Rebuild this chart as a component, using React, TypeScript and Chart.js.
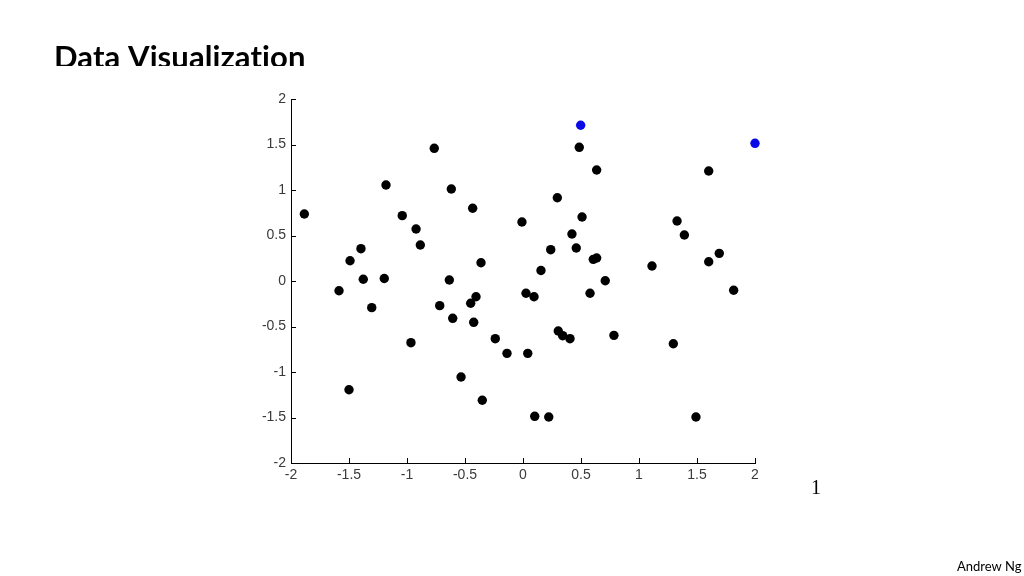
import React, { useEffect, useRef } from "react";
import { Chart, registerables } from "chart.js";

Chart.register(...registerables);

// ---- data ----
const blackX = [
  -1.885, -1.586, -1.491, -1.397, -1.377, -1.304, -1.5, -1.196, -1.181, -1.041,
  -0.966, -0.922, -0.885, -0.765, -0.718, -0.635, -0.618, -0.606, -0.534, -0.434,
  -0.451, -0.405, -0.425, -0.362, -0.351, -0.239, -0.138, -0.009, 0.026, 0.095,
  0.041, 0.101, 0.155, 0.222, 0.239, 0.296, 0.304, 0.342, 0.405, 0.422,
  0.459, 0.485, 0.509, 0.606, 0.635, 0.635, 0.578, 0.709, 0.784, 1.112,
  1.296, 1.328, 1.391, 1.491, 1.601, 1.601, 1.692, 1.816,
];
const blackY = [
  0.736, -0.107, 0.223, 0.355, 0.019, -0.293, -1.195, 0.027, 1.055, 0.718,
  -0.678, 0.571, 0.396, 1.458, -0.271, 0.011, 1.011, -0.41, -1.055, 0.799,
  -0.245, -0.173, -0.454, 0.201, -1.311, -0.634, -0.795, 0.648, -0.135, -0.173,
  -0.795, -1.487, 0.115, -1.495, 0.344, 0.915, -0.549, -0.601, -0.634, 0.516,
  0.363, 1.469, 0.703, 0.238, 0.253, 1.22, -0.135, 0.003, -0.597, 0.165,
  -0.689, 0.659, 0.505, -1.495, 1.209, 0.212, 0.304, -0.102,
];
const blueX = [0.497, 2.0];
const blueY = [1.711, 1.513];
const tickValues = [-2, -1.5, -1, -0.5, 0, 0.5, 1, 1.5, 2];

const titleText = "Data Visualization";
const pageNumber = "1";
const footerText = "Andrew Ng";

const toPoints = (xs: number[], ys: number[]) => xs.map((x, i) => ({ x, y: ys[i] }));
const fmt = (v: any) => {
  const n = Number(v);
  return n === 0 ? "0" : String(n);
};

const inwardTicks = {
  id: "inwardTicks",
  beforeDatasetsDraw(chart: any) {
    const { ctx, chartArea, scales } = chart;
    ctx.save();
    ctx.strokeStyle = "#000";
    ctx.lineWidth = 1;
    ctx.beginPath();
    for (const v of tickValues) {
      const px = Math.round(scales.x.getPixelForValue(v)) + 0.5;
      ctx.moveTo(px, chartArea.bottom);
      ctx.lineTo(px, chartArea.bottom - 5);
      const py = Math.round(scales.y.getPixelForValue(v)) + 0.5;
      ctx.moveTo(chartArea.left, py);
      ctx.lineTo(chartArea.left + 5, py);
    }
    ctx.stroke();
    ctx.restore();
  },
};

const slideText = {
  id: "slideText",
  afterDraw(chart: any) {
    const ctx = chart.ctx;
    ctx.save();
    ctx.fillStyle = "#000";
    ctx.textBaseline = "alphabetic";
    ctx.textAlign = "left";
    // title, clipped at its bottom like the reference
    ctx.save();
    ctx.beginPath();
    ctx.rect(0, 0, 1024, 66);
    ctx.clip();
    ctx.font = "bold 31px Lato";
    (ctx as any).letterSpacing = "0.1px";
    ctx.fillText(titleText, 54, 68);
    ctx.restore();
    // page number
    ctx.font = "20px 'Liberation Serif'";
    ctx.fillText(pageNumber, 811, 494);
    // footer
    ctx.font = "13px Lato";
    ctx.fillText(footerText, 957, 571);
    ctx.restore();
  },
};

export default function App() {
  const ref = useRef<HTMLCanvasElement | null>(null);

  useEffect(() => {
    if (!ref.current) return;
    const axisFont = { family: "'Liberation Sans', Arial, sans-serif", size: 14 };
    const chart = new Chart(ref.current, {
      type: "scatter",
      data: {
        datasets: [
          {
            data: toPoints(blackX, blackY),
            backgroundColor: "#000",
            borderWidth: 0,
            pointRadius: 4.7,
            clip: false as any,
          },
          {
            data: toPoints(blueX, blueY),
            backgroundColor: "#0a0ae6",
            borderWidth: 0,
            pointRadius: 4.7,
            clip: false as any,
          },
        ],
      },
      options: {
        responsive: false,
        animation: false,
        layout: { padding: { left: 251, right: 269, top: 99, bottom: 83 } },
        plugins: { legend: { display: false }, tooltip: { enabled: false }, title: { display: false } },
        scales: {
          x: {
            type: "linear",
            min: -2,
            max: 2,
            afterBuildTicks: (s: any) => {
              s.ticks = tickValues.map((v) => ({ value: v }));
            },
            afterFit: (s: any) => {
              s.height = 30;
            },
            ticks: { callback: fmt, color: "#3a3a3a", font: axisFont, padding: 4, maxRotation: 0, autoSkip: false },
            grid: { display: false, drawTicks: false },
            border: { display: true, color: "#000", width: 1 },
          },
          y: {
            type: "linear",
            min: -2,
            max: 2,
            afterBuildTicks: (s: any) => {
              s.ticks = tickValues.map((v) => ({ value: v }));
            },
            afterFit: (s: any) => {
              s.width = 40;
            },
            ticks: { callback: fmt, color: "#3a3a3a", font: axisFont, padding: 5, autoSkip: false },
            grid: { display: false, drawTicks: false },
            border: { display: true, color: "#000", width: 1 },
          },
        },
      } as any,
      plugins: [inwardTicks, slideText],
    });
    return () => chart.destroy();
  }, []);

  return (
    <div style={{ position: "fixed", left: 0, top: 0, width: 1024, height: 576, background: "#fff" }}>
      <canvas ref={ref} width={1024} height={576} style={{ width: 1024, height: 576, display: "block" }} />
    </div>
  );
}
